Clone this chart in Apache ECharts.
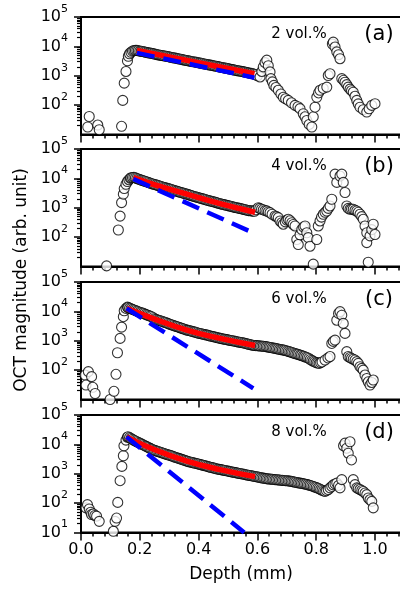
<!DOCTYPE html>
<html><head><meta charset="utf-8">
<script src="https://cdn.jsdelivr.net/npm/echarts@6/dist/echarts.min.js"></script>
<style>html,body{margin:0;padding:0;background:#fff}#c{width:400px;height:592px}</style>
</head><body><div id="c"></div>
<script>
// ---------- data ----------
const panelLabels = ['(a)', '(b)', '(c)', '(d)'];
const concLabels = ['2 vol.%', '4 vol.%', '6 vol.%', '8 vol.%'];
const xTickValues = [0.0, 0.2, 0.4, 0.6, 0.8, 1.0];
const yMajorTicks = [10, 100, 1000, 10000, 100000];
const xTitle = 'Depth (mm)';
const yTitle = 'OCT magnitude (arb. unit)';

const scatterA = [[0.023,18],[0.028,41],[0.057,21],[0.062,14.5],[0.138,19],[0.142,145],[0.147,560],[0.153,1400],[0.158,3200],[0.161,4600],[0.165,5600],[0.17,6300],[0.175,6900],
[0.18,7200],[0.185,7300],[0.19,7300],[0.195,7100],[0.2,6900],[0.205,6800],[0.21,6700],[0.215,6500],[0.22,6300],[0.225,6150],[0.23,6000],[0.235,5900],[0.24,5800],[0.245,5650],[0.25,5500],[0.255,5350],[0.26,5200],[0.265,5100],[0.27,5000],[0.275,4900],[0.28,4800],[0.285,4700],[0.29,4600],[0.295,4500],[0.3,4400],[0.305,4270],[0.31,4150],[0.315,4070],[0.32,4000],[0.325,3900],[0.33,3800],[0.335,3720],[0.34,3650],[0.345,3550],[0.35,3450],[0.355,3380],[0.36,3300],[0.365,3220],[0.37,3150],[0.375,3070],[0.38,3000],[0.385,2950],[0.39,2900],[0.395,2820],[0.4,2750],[0.405,2700],[0.41,2650],[0.415,2570],[0.42,2500],[0.425,2450],[0.43,2400],[0.435,2350],[0.44,2300],[0.445,2250],[0.45,2200],[0.455,2150],[0.46,2100],[0.465,2050],[0.47,2000],[0.475,1950],[0.48,1900],[0.485,1860],[0.49,1820],[0.495,1790],[0.5,1750],[0.505,1700],[0.51,1650],[0.515,1610],[0.52,1580],[0.525,1540],[0.53,1500],[0.535,1470],[0.54,1450],[0.545,1410],[0.55,1380],[0.555,1350],[0.56,1320],[0.565,1280],[0.57,1250],[0.575,1220],[0.58,1200],[0.585,1160],[0.59,1130],[0.595,1080],[0.6,1000],
[0.609,910],[0.615,1400],[0.62,2000],[0.626,2800],[0.632,3400],[0.637,2200],[0.643,1350],[0.646,800],[0.651,620],[0.656,470],[0.663,400],[0.671,320],[0.68,240],[0.688,185],[0.696,165],[0.705,145],[0.716,120],[0.728,98],[0.738,88],[0.745,76],[0.756,51],[0.762,40],[0.768,30],[0.776,22],[0.785,18],[0.79,40],[0.796,85],[0.802,185],[0.808,260],[0.813,320],[0.824,370],[0.836,410],[0.841,1020],[0.847,1170],
[0.855,12000],[0.858,14000],[0.864,9500],[0.87,6500],[0.876,5200],[0.881,3800],[0.887,800],[0.893,700],[0.898,600],[0.904,500],[0.909,410],[0.915,350],[0.92,310],[0.926,275],[0.932,200],[0.938,145],[0.943,110],[0.949,85],[0.96,70],[0.972,58],[0.98,75],[0.989,98],[1.0,112]];

const scatterB = [[0.087,10.5],[0.127,175],[0.133,520],[0.138,1500],[0.144,2900],[0.147,4500],[0.153,6300],[0.158,7800],[0.163,9000],[0.168,10000],
[0.17,10500],[0.175,10700],[0.18,10800],[0.185,10400],[0.19,9900],[0.195,9500],[0.2,9100],[0.205,8700],[0.21,8400],[0.215,8100],[0.22,7800],[0.225,7500],[0.23,7200],[0.235,6900],[0.24,6600],[0.245,6400],[0.25,6200],[0.255,6000],[0.26,5800],[0.265,5600],[0.27,5400],[0.275,5200],[0.28,5000],[0.285,4850],[0.29,4700],[0.295,4550],[0.3,4400],[0.305,4250],[0.31,4100],[0.315,3950],[0.32,3800],[0.325,3680],[0.33,3550],[0.335,3420],[0.34,3300],[0.345,3200],[0.35,3100],[0.355,3000],[0.36,2900],[0.365,2800],[0.37,2700],[0.375,2600],[0.38,2500],[0.385,2420],[0.39,2350],[0.395,2270],[0.4,2200],[0.405,2120],[0.41,2050],[0.415,2000],[0.42,1950],[0.425,1870],[0.43,1800],[0.435,1750],[0.44,1700],[0.445,1650],[0.45,1600],[0.455,1550],[0.46,1500],[0.465,1450],[0.47,1400],[0.475,1360],[0.48,1320],[0.485,1280],[0.49,1250],[0.495,1210],[0.5,1180],[0.505,1150],[0.51,1120],[0.515,1080],[0.52,1050],[0.525,1020],[0.53,1000],[0.535,970],[0.54,950],[0.545,920],[0.55,900],[0.555,870],[0.56,850],[0.565,820],[0.57,800],[0.575,790],[0.58,780],[0.585,770],[0.59,760],[0.595,850],
[0.603,1000],[0.608,950],[0.614,890],[0.62,850],[0.626,800],[0.632,780],[0.637,720],[0.643,680],[0.65,600],[0.66,525],[0.665,500],[0.671,460],[0.677,355],[0.683,310],[0.688,275],[0.695,330],[0.7,380],[0.705,405],[0.711,360],[0.717,310],[0.722,270],[0.728,240],[0.734,83],[0.739,56],[0.745,120],[0.751,182],[0.757,220],[0.762,240],[0.768,141],[0.773,96],[0.779,49],[0.79,12],[0.802,83],[0.807,240],[0.813,355],[0.818,480],[0.824,600],[0.83,700],[0.836,775],[0.841,950],[0.847,1150],[0.853,1950],
[0.864,14000],[0.87,7300],[0.881,12000],[0.887,14000],[0.892,7300],[0.898,3300],[0.904,1150],[0.909,950],[0.915,890],[0.92,900],[0.926,890],[0.932,820],[0.938,775],[0.943,700],[0.949,600],[0.955,500],[0.96,405],[0.966,240],[0.972,141],[0.972,65],[0.977,14],[0.983,110],[0.989,180],[0.994,275],[1.0,123]];

const scatterC = [[0.014,68],[0.017,31],[0.025,89],[0.036,60],[0.04,26],[0.048,16],[0.099,10],[0.112,19],[0.119,72],[0.124,390],[0.133,1200],[0.138,2900],[0.144,6600],[0.147,10500],[0.153,12600],[0.158,14000],
[0.16,13500],[0.165,12900],[0.17,12300],[0.175,11700],[0.18,11200],[0.185,10700],[0.19,10200],[0.195,9700],[0.2,9300],[0.205,9000],[0.21,8700],[0.215,8300],[0.22,7900],[0.225,7500],[0.23,7200],[0.235,6900],[0.24,6600],[0.245,6100],[0.25,5600],[0.255,5350],[0.26,5100],[0.265,4950],[0.27,4800],[0.275,4600],[0.28,4400],[0.285,4250],[0.29,4100],[0.295,3900],[0.3,3700],[0.305,3570],[0.31,3450],[0.315,3300],[0.32,3150],[0.325,3050],[0.33,2950],[0.335,2820],[0.34,2700],[0.345,2600],[0.35,2500],[0.355,2400],[0.36,2300],[0.365,2250],[0.37,2200],[0.375,2120],[0.38,2050],[0.385,2000],[0.39,1950],[0.395,1870],[0.4,1800],[0.405,1760],[0.41,1730],[0.415,1670],[0.42,1620],[0.425,1580],[0.43,1550],[0.435,1500],[0.44,1450],[0.445,1410],[0.45,1380],[0.455,1340],[0.46,1300],[0.465,1260],[0.47,1230],[0.475,1200],[0.48,1170],[0.485,1140],[0.49,1120],[0.495,1090],[0.5,1070],[0.505,1040],[0.51,1020],[0.515,1000],[0.52,980],[0.525,950],[0.53,930],[0.535,910],[0.54,890],[0.545,870],[0.55,850],[0.555,830],[0.56,810],[0.565,780],[0.57,760],[0.575,740],[0.58,720],[0.585,700],[0.59,690],[0.595,685],[0.6,680],[0.605,670],[0.61,660],[0.615,655],[0.62,650],[0.625,640],[0.63,630],[0.635,615],[0.64,600],[0.645,590],[0.65,575],[0.655,560],[0.66,550],[0.665,540],[0.67,525],[0.675,510],[0.68,500],[0.685,490],[0.69,480],[0.695,465],[0.7,450],[0.705,435],[0.71,420],[0.715,405],[0.72,390],[0.725,375],[0.73,360],[0.735,350],[0.74,340],[0.745,325],[0.75,315],[0.755,300],[0.76,290],[0.765,275],[0.77,265],[0.775,250],[0.78,230],[0.785,215],[0.79,200],[0.795,190],[0.8,180],[0.805,175],[0.81,170],[0.815,180],
[0.82,190],[0.83,220],[0.84,260],[0.847,290],[0.853,810],[0.858,950],[0.864,1050],[0.87,5000],[0.876,8500],[0.881,9800],[0.887,7400],[0.892,3900],[0.898,1780],[0.904,425],[0.909,290],[0.915,270],[0.92,250],[0.926,235],[0.932,220],[0.938,195],[0.943,170],[0.949,131],[0.955,115],[0.96,100],[0.966,68],[0.972,52],[0.977,40],[0.983,31],[0.989,38],[0.994,46]];

const scatterD = [[0.017,69],[0.022,89],[0.028,63],[0.033,49],[0.036,41],[0.042,43],[0.047,38],[0.053,36],[0.062,24],[0.11,11],[0.116,24],[0.121,31],[0.125,106],[0.133,580],[0.139,1780],[0.144,4100],[0.146,8900],[0.153,14000],[0.158,17500],
[0.16,18200],[0.165,17000],[0.17,15800],[0.175,14800],[0.18,13800],[0.185,13000],[0.19,12300],[0.195,11600],[0.2,11000],[0.205,10400],[0.21,9800],[0.215,9200],[0.22,8700],[0.225,8200],[0.23,7800],[0.235,7300],[0.24,6900],[0.245,6600],[0.25,6300],[0.255,6000],[0.26,5800],[0.265,5600],[0.27,5400],[0.275,5200],[0.28,5000],[0.285,4800],[0.29,4600],[0.295,4450],[0.3,4300],[0.305,4150],[0.31,4000],[0.315,3820],[0.32,3650],[0.325,3520],[0.33,3400],[0.335,3270],[0.34,3150],[0.345,3020],[0.35,2900],[0.355,2800],[0.36,2700],[0.365,2600],[0.37,2500],[0.375,2450],[0.38,2400],[0.385,2320],[0.39,2250],[0.395,2200],[0.4,2150],[0.405,2070],[0.41,2000],[0.415,1950],[0.42,1900],[0.425,1840],[0.43,1780],[0.435,1720],[0.44,1660],[0.445,1620],[0.45,1580],[0.455,1530],[0.46,1480],[0.465,1440],[0.47,1410],[0.475,1380],[0.48,1350],[0.485,1320],[0.49,1290],[0.495,1260],[0.5,1230],[0.505,1200],[0.51,1170],[0.515,1140],[0.52,1120],[0.525,1090],[0.53,1070],[0.535,1040],[0.54,1020],[0.545,1000],[0.55,980],[0.555,950],[0.56,930],[0.565,910],[0.57,890],[0.575,870],[0.58,850],[0.585,830],[0.59,810],[0.595,795],[0.6,780],[0.605,760],[0.61,740],[0.615,725],[0.62,710],[0.625,695],[0.63,680],[0.635,670],[0.64,660],[0.645,655],[0.65,650],[0.655,640],[0.66,630],[0.665,625],[0.67,620],[0.675,610],[0.68,600],[0.685,595],[0.69,590],[0.695,580],[0.7,575],[0.705,570],[0.71,560],[0.715,550],[0.72,540],[0.725,525],[0.73,515],[0.735,500],[0.74,490],[0.745,480],[0.75,470],[0.755,460],[0.76,450],[0.765,440],[0.77,425],[0.775,410],[0.78,400],[0.785,385],[0.79,370],[0.795,355],[0.8,340],[0.805,325],[0.81,310],[0.815,290],[0.82,275],[0.825,260],[0.83,250],[0.835,265],
[0.841,290],[0.847,330],[0.853,370],[0.858,420],[0.864,450],[0.87,480],[0.876,400],[0.881,330],[0.887,630],[0.893,9000],[0.898,11000],[0.904,7400],[0.909,5000],[0.915,12300],[0.92,2950],[0.926,630],[0.932,425],[0.938,330],[0.943,310],[0.949,290],[0.955,270],[0.96,250],[0.966,220],[0.972,195],[0.977,150],[0.983,130],[0.989,115],[0.994,69]];

const fitA = [[0.19,7300],[0.39,2900],[0.59,1170]];
const fitB = [[0.178,10700],[0.246,6300],[0.36,2900],[0.473,1380],[0.592,700]];
const fitC = [[0.155,12600],[0.246,5700],[0.36,2300],[0.473,1200],[0.592,690]];
const fitD = [[0.155,18000],[0.246,6800],[0.36,2700],[0.473,1380],[0.592,800]];

const slopeA = [[0.19,6000],[0.59,860]];
const slopeB = [[0.178,9500],[0.57,165]];
const slopeC = [[0.155,12600],[0.586,24]];
const slopeD = [[0.155,18000],[0.555,10]];

const scatters = [scatterA, scatterB, scatterC, scatterD];
const fits = [fitA, fitB, fitC, fitD];
const slopes = [slopeA, slopeB, slopeC, slopeD];

// ---------- layout ----------
const FONT = 'DejaVu Sans';
const tops = [17, 149, 282, 415];
const H = 117.5, LEFT = 81, W = 352.8;
const minorY = [];
[10, 100, 1000, 10000].forEach(d => { for (let k = 2; k <= 9; k++) minorY.push(d * k); });

const grids = [], xAxes = [], yAxes = [], series = [], graphics = [];
for (let i = 0; i < 4; i++) {
  grids.push({ left: LEFT, top: tops[i], width: W, height: H, show: true, borderColor: '#000', borderWidth: 2,
    backgroundColor: 'transparent', containLabel: false, outerBoundsMode: 'none' });
  xAxes.push({
    type: 'value', gridIndex: i, min: 0, max: 1.2, interval: 0.2,
    axisLine: { show: true, onZero: false, lineStyle: { color: '#000', width: 2 } },
    axisTick: { show: true, inside: false, length: 8, lineStyle: { color: '#000', width: 1.5 } },
    minorTick: { show: true, splitNumber: 5, length: 4, lineStyle: { color: '#000', width: 1.5 } },
    splitLine: { show: false }, minorSplitLine: { show: false },
    axisLabel: { show: i === 3, fontFamily: FONT, fontSize: 16, color: '#000', margin: 9,
      formatter: v => v.toFixed(1) }
  });
  yAxes.push({
    type: 'log', logBase: 10, gridIndex: i, min: 10, max: 100000, position: 'left',
    axisLine: { show: true, lineStyle: { color: '#000', width: 2 } },
    axisTick: { show: true, length: 7, lineStyle: { color: '#000', width: 1.5 } },
    splitLine: { show: false },
    axisLabel: {
      show: true, showMinLabel: i === 3, margin: 13, color: '#000',
      formatter: v => '{b|10}{s|' + Math.round(Math.log10(v)) + '}',
      rich: {
        b: { fontFamily: FONT, fontSize: 16, color: '#000', lineHeight: 18 },
        s: { fontFamily: FONT, fontSize: 11, color: '#000', lineHeight: 11, padding: [0, 0, 16, 0] }
      }
    }
  });
  yAxes.push({
    type: 'log', logBase: 10, gridIndex: i, min: 10, max: 100000, position: 'left',
    axisLine: { show: false }, axisLabel: { show: false }, splitLine: { show: false },
    axisTick: { show: true, length: 4, customValues: minorY, lineStyle: { color: '#000', width: 1.2 } }
  });
  series.push({
    type: 'scatter', xAxisIndex: i, yAxisIndex: 2 * i, data: scatters[i], symbol: 'circle', symbolSize: 10,
    itemStyle: { color: '#fff', borderColor: '#000', borderWidth: 1.1 }, z: 2, clip: true, silent: true
  });
  series.push({
    type: 'line', xAxisIndex: i, yAxisIndex: 2 * i, data: fits[i], symbol: 'none', smooth: true,
    lineStyle: { color: '#ff0000', width: 5.5 }, z: 3, silent: true
  });
  series.push({
    type: 'line', xAxisIndex: i, yAxisIndex: 2 * i, data: slopes[i], symbol: 'none',
    lineStyle: { color: '#0000ff', width: 4.5, type: [18, 9] }, z: 4, silent: true, clip: true
  });
  graphics.push({ type: 'text', x: 299, y: tops[i] + 17, z: 10,
    style: { text: concLabels[i], fill: '#000', fontFamily: FONT, fontSize: 15, textAlign: 'center', textVerticalAlign: 'middle', align: 'center', verticalAlign: 'middle' } });
  graphics.push({ type: 'text', x: 379, y: tops[i] + 18, z: 10,
    style: { text: panelLabels[i], fill: '#000', fontFamily: FONT, fontSize: 21, textAlign: 'center', textVerticalAlign: 'middle', align: 'center', verticalAlign: 'middle' } });
}
graphics.push({ type: 'text', x: 22, y: 280, rotation: Math.PI / 2, z: 10,
  style: { text: yTitle, fill: '#000', fontFamily: FONT, fontSize: 17, textAlign: 'center', textVerticalAlign: 'middle', align: 'center', verticalAlign: 'middle' } });
graphics.push({ type: 'text', x: 241, y: 575, z: 10,
  style: { text: xTitle, fill: '#000', fontFamily: FONT, fontSize: 17, textAlign: 'center', textVerticalAlign: 'middle', align: 'center', verticalAlign: 'middle' } });

const chart = echarts.init(document.getElementById('c'), null, { renderer: 'canvas' });
chart.setOption({
  animation: false,
  backgroundColor: '#fff',
  grid: grids, xAxis: xAxes, yAxis: yAxes, series: series, graphic: graphics
});
</script></body></html>
